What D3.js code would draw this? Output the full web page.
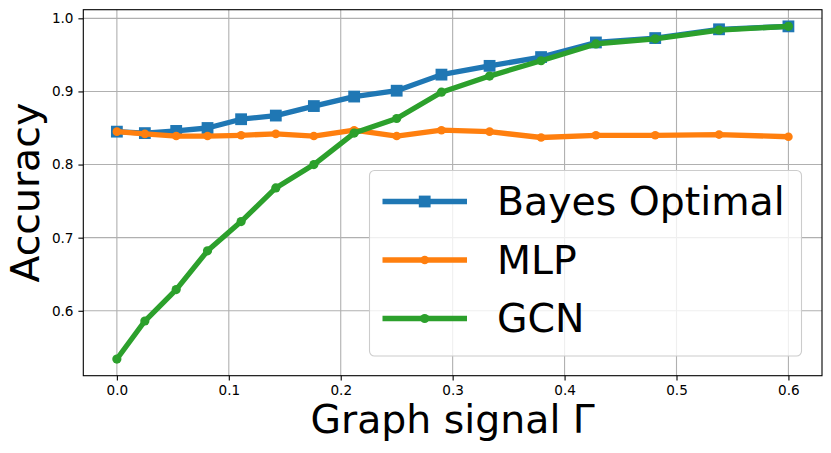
<!DOCTYPE html>
<html>
<head>
<meta charset="utf-8">
<script src="https://cdn.jsdelivr.net/npm/d3@7"></script>
<style>
  html, body { margin: 0; padding: 0; background: #fff; }
  svg { display: block; font-family: "DejaVu Sans", sans-serif; }
</style>
</head>
<body>
<svg id="chart" width="831" height="453"></svg>
<script>
// ---- data ----
const gamma = [0, 0.025, 0.053, 0.081, 0.111, 0.142, 0.176, 0.212, 0.25, 0.29, 0.333, 0.379, 0.428, 0.481, 0.538, 0.6];
const bayesOptimal = [0.845, 0.843, 0.846, 0.850, 0.862, 0.867, 0.880, 0.893, 0.901, 0.923, 0.935, 0.947, 0.967, 0.973, 0.985, 0.989];
const mlp = [0.845, 0.842, 0.839, 0.839, 0.840, 0.842, 0.839, 0.847, 0.839, 0.847, 0.845, 0.837, 0.840, 0.840, 0.841, 0.838];
const gcn = [0.534, 0.586, 0.629, 0.682, 0.722, 0.768, 0.800, 0.843, 0.863, 0.899, 0.921, 0.942, 0.965, 0.972, 0.984, 0.989];
const xTicks = [0.0, 0.1, 0.2, 0.3, 0.4, 0.5, 0.6];
const yTicks = [0.6, 0.7, 0.8, 0.9, 1.0];
const seriesNames = ["Bayes Optimal", "MLP", "GCN"];
const xLabel = "Graph signal Γ";
const yLabel = "Accuracy";

(function () {
const svg = d3.select("#chart");
const pl = 83.3, pr = 822, pt = 9.7, pb = 375.7;
const bigFont = 39.4, tickFont = 13.6;

const x = d3.scaleLinear().domain([-0.03, 0.63]).range([pl, pr]);
const y = d3.scaleLinear().domain([0.5112, 1.0118]).range([pb, pt]);

// grid
const grid = svg.append("g");
grid.selectAll("line.gx").data(xTicks).join("line").attr("class", "gx")
  .attr("x1", d => x(d)).attr("x2", d => x(d))
  .attr("y1", pt).attr("y2", pb)
  .attr("stroke", "#b0b0b0").attr("stroke-width", 1.1);
grid.selectAll("line.gy").data(yTicks).join("line").attr("class", "gy")
  .attr("y1", d => y(d)).attr("y2", d => y(d))
  .attr("x1", pl).attr("x2", pr)
  .attr("stroke", "#b0b0b0").attr("stroke-width", 1.1);

// axes
const xAxis = d3.axisBottom(x).tickValues(xTicks).tickFormat(d3.format(".1f")).tickSize(4.9).tickPadding(4.9);
const yAxis = d3.axisLeft(y).tickValues(yTicks).tickFormat(d3.format(".1f")).tickSize(4.9).tickPadding(4.9);
const gx = svg.append("g").attr("transform", `translate(0,${pb})`).call(xAxis);
const gy = svg.append("g").attr("transform", `translate(${pl},0)`).call(yAxis);
[gx, gy].forEach(g => {
  g.select(".domain").remove();
  g.selectAll(".tick line").attr("stroke", "#000").attr("stroke-width", 1.1);
  g.selectAll(".tick text").attr("font-size", tickFont).attr("fill", "#000")
    .attr("font-family", "DejaVu Sans, sans-serif");
});

// series
const series = [
  { name: seriesNames[0], values: bayesOptimal, color: "#1f77b4", marker: "square", size: 11.8 },
  { name: seriesNames[1], values: mlp, color: "#ff7f0e", marker: "circle", size: 8.6 },
  { name: seriesNames[2], values: gcn, color: "#2ca02c", marker: "circle", size: 9.2 }
];
const line = d3.line().x(d => x(d[0])).y(d => y(d[1]));

const plot = svg.append("g");
plot.append("clipPath").attr("id", "clip").append("rect")
  .attr("x", pl).attr("y", pt).attr("width", pr - pl).attr("height", pb - pt);

function drawMarker(g, s, cx, cy) {
  if (s.marker === "square") {
    g.append("rect").attr("x", cx - s.size / 2).attr("y", cy - s.size / 2)
      .attr("width", s.size).attr("height", s.size).attr("fill", s.color);
  } else {
    g.append("circle").attr("cx", cx).attr("cy", cy).attr("r", s.size / 2).attr("fill", s.color);
  }
}

series.forEach(s => {
  const pts = gamma.map((g, i) => [g, s.values[i]]);
  const g = plot.append("g").attr("clip-path", "url(#clip)");
  g.append("path").datum(pts).attr("d", line)
    .attr("fill", "none").attr("stroke", s.color).attr("stroke-width", 5.3)
    .attr("stroke-linejoin", "round").attr("stroke-linecap", "butt");
  pts.forEach(p => drawMarker(g, s, x(p[0]), y(p[1])));
});

// frame
svg.append("rect").attr("x", pl).attr("y", pt)
  .attr("width", pr - pl).attr("height", pb - pt)
  .attr("fill", "none").attr("stroke", "#000").attr("stroke-width", 1.1);

// legend
const lg = svg.append("g");
lg.append("rect").attr("x", 369.5).attr("y", 170.5).attr("width", 432).attr("height", 185.5)
  .attr("rx", 5).attr("ry", 5)
  .attr("fill", "#fff").attr("fill-opacity", 0.8)
  .attr("stroke", "#cccccc").attr("stroke-width", 1.1);
const rowY = [201.5, 260, 318.5];
series.forEach((s, i) => {
  const ry = rowY[i];
  lg.append("line").attr("x1", 382.5).attr("x2", 467).attr("y1", ry).attr("y2", ry)
    .attr("stroke", s.color).attr("stroke-width", 5.3);
  drawMarker(lg, s, 424.7, ry);
  lg.append("text").attr("x", 497).attr("y", ry + 13.7)
    .attr("font-size", bigFont).attr("fill", "#000").text(s.name);
});

// axis labels
svg.append("text").attr("x", (pl + pr) / 2).attr("y", 433)
  .attr("text-anchor", "middle").attr("font-size", bigFont).attr("fill", "#000").text(xLabel);
svg.append("text").attr("transform", `translate(39,${(pt + pb) / 2}) rotate(-90)`)
  .attr("text-anchor", "middle").attr("font-size", bigFont).attr("fill", "#000").text(yLabel);
})();
</script>
</body>
</html>
